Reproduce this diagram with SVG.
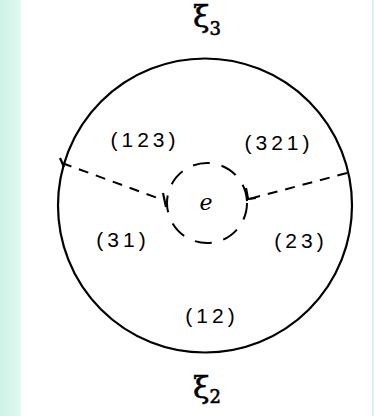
<svg xmlns="http://www.w3.org/2000/svg" width="374" height="416" viewBox="0 0 374 416">
<defs>
<linearGradient id="bg" x1="0" y1="0" x2="1" y2="0">
<stop offset="0" stop-color="#cdf2e6"/>
<stop offset="1" stop-color="#e2f8f1"/>
</linearGradient>
<style>
.lbl{font-family:"Liberation Sans",Arial,sans-serif;font-size:21px;letter-spacing:4px;fill:#000;text-anchor:middle}
.sym{font-family:"DejaVu Serif","Liberation Serif",serif;fill:#000;text-anchor:middle}
.solid{fill:none;stroke:#000;stroke-width:2.2}
.dash{fill:none;stroke:#000;stroke-width:2;stroke-dasharray:10 8}
</style>
</defs>
<rect x="0" y="0" width="374" height="416" fill="#ffffff"/>
<rect x="0" y="0" width="21" height="416" fill="url(#bg)"/>
<rect x="372" y="0" width="2" height="416" fill="#d6f5ec"/>
<g id="outer"><circle class="solid" cx="205" cy="205.5" r="147"/></g>
<g id="inner"><circle cx="207" cy="203" r="40" fill="none" stroke="#000" stroke-width="2" stroke-dasharray="17 12"/></g>
<g id="connectors">
<line class="dash" x1="62" y1="163" x2="163" y2="200"/>
<line class="dash" x1="347" y1="173" x2="249" y2="199"/>
<path class="solid" d="M163 193 L166 207" stroke-width="1.8"/>
<path class="solid" d="M246 188 L248 199 L256 198" stroke-width="1.8"/>
<path class="solid" d="M60 158 L64 167" stroke-width="1.8"/>
</g>
<g id="n123"><text class="lbl" x="145" y="147">(123)</text></g>
<g id="n321"><text class="lbl" x="279" y="150">(321)</text></g>
<g id="n31"><text class="lbl" x="123" y="247">(31)</text></g>
<g id="n23"><text class="lbl" x="301" y="248">(23)</text></g>
<g id="n12"><text class="lbl" x="212" y="323">(12)</text></g>
<g id="ne"><text class="sym" x="206" y="210" font-size="22" font-style="italic">e</text></g>
<g id="xi3"><text class="sym" x="207" y="27" font-size="30" stroke="#000" stroke-width="0.6">ξ<tspan font-size="18" dy="8">3</tspan></text></g>
<g id="xi2"><text class="sym" x="207" y="398" font-size="30" stroke="#000" stroke-width="0.6">ξ<tspan font-size="18" dy="5">2</tspan></text></g>
</svg>
